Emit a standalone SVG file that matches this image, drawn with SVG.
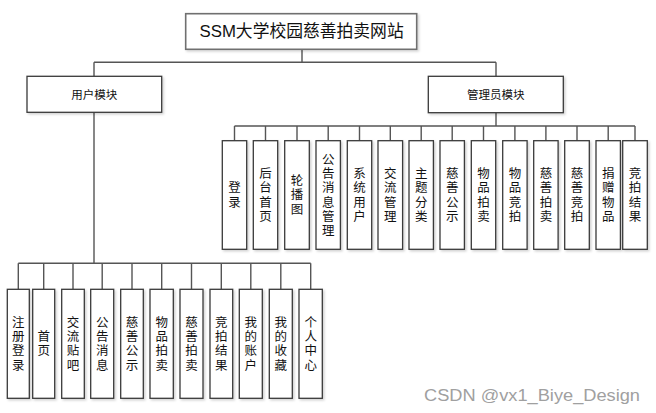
<svg xmlns="http://www.w3.org/2000/svg" width="656" height="413" viewBox="0 0 656 413">
<defs>
<filter id="sh" x="-20%" y="-20%" width="140%" height="140%">
<feDropShadow dx="1.5" dy="1.5" stdDeviation="1" flood-color="#000" flood-opacity="0.18"/>
</filter>
</defs>
<style>
.box{fill:#fff;stroke:#3a3a3a;stroke-width:1.3;filter:url(#sh)}
.tbox{fill:#fff;stroke:#707070;stroke-width:1.6;filter:url(#sh)}
.ln{fill:none;stroke:#555;stroke-width:1.4}
text{font-family:"Liberation Sans","Noto Sans CJK SC",sans-serif;fill:#111}
.t{font-size:16.8px;text-anchor:middle}
.m{font-size:11.5px;text-anchor:middle}
.v{font-size:12.5px;text-anchor:middle}
.wm{font-size:16px;fill:#a0a0a0;font-family:"Liberation Sans Narrow","Liberation Sans",sans-serif}
</style>
<g id="connectors">
<path class="ln" d="M302 49.3V62.3M94 62.3H496M94 62.3V76.3M496 62.3V76.3"/>
<path class="ln" d="M94 112.3V263.3M18.3 263.3H310.7M18.3 263.3V289.3M43.7 263.3V289.3M73 263.3V289.3M102.2 263.3V289.3M132 263.3V289.3M161.7 263.3V289.3M191.5 263.3V289.3M221.3 263.3V289.3M250.8 263.3V289.3M280.8 263.3V289.3M310.7 263.3V289.3"/>
<path class="ln" d="M496 112.7V126M234.5 126H635M234.5 126V140.7M265.5 126V140.7M297 126V140.7M328.2 126V140.7M359.5 126V140.7M390.3 126V140.7M421.2 126V140.7M452.2 126V140.7M483.5 126V140.7M514.9 126V140.7M545.9 126V140.7M577 126V140.7M608.2 126V140.7M635 126V140.7"/>
</g>
<g id="root"><rect class="tbox" x="185.7" y="13.7" width="231" height="35.6"/><text class="t" x="301.6" y="37">SSM大学校园慈善拍卖网站</text></g>
<g id="user"><rect class="box" x="27" y="76.3" width="134.7" height="36"/><text class="m" x="94.3" y="99">用户模块</text></g>
<g id="admin"><rect class="box" x="428.3" y="76.3" width="135" height="36.4"/><text class="m" x="495.8" y="99">管理员模块</text></g>

<g id="a1"><rect class="box" x="222.3" y="140.7" width="24.4" height="108.6"/><text class="v"><tspan x="234.5" y="192.3">登</tspan><tspan x="234.5" y="206.5">录</tspan></text></g>
<g id="a2"><rect class="box" x="253.3" y="140.7" width="24.4" height="108.6"/><text class="v"><tspan x="265.5" y="178.1">后</tspan><tspan x="265.5" y="192.3">台</tspan><tspan x="265.5" y="206.5">首</tspan><tspan x="265.5" y="220.7">页</tspan></text></g>
<g id="a3"><rect class="box" x="284.7" y="140.7" width="24.6" height="108.6"/><text class="v"><tspan x="297" y="185.2">轮</tspan><tspan x="297" y="199.4">播</tspan><tspan x="297" y="213.6">图</tspan></text></g>
<g id="a4"><rect class="box" x="316" y="140.7" width="24.4" height="108.6"/><text class="v"><tspan x="328.2" y="163.9">公</tspan><tspan x="328.2" y="178.1">告</tspan><tspan x="328.2" y="192.3">消</tspan><tspan x="328.2" y="206.5">息</tspan><tspan x="328.2" y="220.7">管</tspan><tspan x="328.2" y="234.9">理</tspan></text></g>
<g id="a5"><rect class="box" x="347.3" y="140.7" width="24.4" height="108.6"/><text class="v"><tspan x="359.5" y="178.1">系</tspan><tspan x="359.5" y="192.3">统</tspan><tspan x="359.5" y="206.5">用</tspan><tspan x="359.5" y="220.7">户</tspan></text></g>
<g id="a6"><rect class="box" x="378" y="140.7" width="24.6" height="108.6"/><text class="v"><tspan x="390.3" y="178.1">交</tspan><tspan x="390.3" y="192.3">流</tspan><tspan x="390.3" y="206.5">管</tspan><tspan x="390.3" y="220.7">理</tspan></text></g>
<g id="a7"><rect class="box" x="409" y="140.7" width="24.4" height="108.6"/><text class="v"><tspan x="421.2" y="178.1">主</tspan><tspan x="421.2" y="192.3">题</tspan><tspan x="421.2" y="206.5">分</tspan><tspan x="421.2" y="220.7">类</tspan></text></g>
<g id="a8"><rect class="box" x="440" y="140.7" width="24.4" height="108.6"/><text class="v"><tspan x="452.2" y="178.1">慈</tspan><tspan x="452.2" y="192.3">善</tspan><tspan x="452.2" y="206.5">公</tspan><tspan x="452.2" y="220.7">示</tspan></text></g>
<g id="a9"><rect class="box" x="471.3" y="140.7" width="24.4" height="108.6"/><text class="v"><tspan x="483.5" y="178.1">物</tspan><tspan x="483.5" y="192.3">品</tspan><tspan x="483.5" y="206.5">拍</tspan><tspan x="483.5" y="220.7">卖</tspan></text></g>
<g id="a10"><rect class="box" x="502.7" y="140.7" width="24.4" height="108.6"/><text class="v"><tspan x="514.9" y="178.1">物</tspan><tspan x="514.9" y="192.3">品</tspan><tspan x="514.9" y="206.5">竞</tspan><tspan x="514.9" y="220.7">拍</tspan></text></g>
<g id="a11"><rect class="box" x="533.7" y="140.7" width="24.4" height="108.6"/><text class="v"><tspan x="545.9" y="178.1">慈</tspan><tspan x="545.9" y="192.3">善</tspan><tspan x="545.9" y="206.5">拍</tspan><tspan x="545.9" y="220.7">卖</tspan></text></g>
<g id="a12"><rect class="box" x="564.7" y="140.7" width="24.6" height="108.6"/><text class="v"><tspan x="577" y="178.1">慈</tspan><tspan x="577" y="192.3">善</tspan><tspan x="577" y="206.5">竞</tspan><tspan x="577" y="220.7">拍</tspan></text></g>
<g id="a13"><rect class="box" x="596" y="140.7" width="24.4" height="108.6"/><text class="v"><tspan x="608.2" y="178.1">捐</tspan><tspan x="608.2" y="192.3">赠</tspan><tspan x="608.2" y="206.5">物</tspan><tspan x="608.2" y="220.7">品</tspan></text></g>
<g id="a14"><rect class="box" x="622.7" y="140.7" width="24.6" height="108.6"/><text class="v"><tspan x="635" y="178.1">竞</tspan><tspan x="635" y="192.3">拍</tspan><tspan x="635" y="206.5">结</tspan><tspan x="635" y="220.7">果</tspan></text></g>

<g id="u1"><rect class="box" x="7.3" y="289.3" width="22" height="109"/><text class="v"><tspan x="18.3" y="326.9">注</tspan><tspan x="18.3" y="341.1">册</tspan><tspan x="18.3" y="355.3">登</tspan><tspan x="18.3" y="369.5">录</tspan></text></g>
<g id="u2"><rect class="box" x="32.7" y="289.3" width="22" height="109"/><text class="v"><tspan x="43.7" y="341.1">首</tspan><tspan x="43.7" y="355.3">页</tspan></text></g>
<g id="u3"><rect class="box" x="61.7" y="289.3" width="22.6" height="109"/><text class="v"><tspan x="73" y="326.9">交</tspan><tspan x="73" y="341.1">流</tspan><tspan x="73" y="355.3">贴</tspan><tspan x="73" y="369.5">吧</tspan></text></g>
<g id="u4"><rect class="box" x="90.7" y="289.3" width="23" height="109"/><text class="v"><tspan x="102.2" y="326.9">公</tspan><tspan x="102.2" y="341.1">告</tspan><tspan x="102.2" y="355.3">消</tspan><tspan x="102.2" y="369.5">息</tspan></text></g>
<g id="u5"><rect class="box" x="120.7" y="289.3" width="22.6" height="109"/><text class="v"><tspan x="132" y="326.9">慈</tspan><tspan x="132" y="341.1">善</tspan><tspan x="132" y="355.3">公</tspan><tspan x="132" y="369.5">示</tspan></text></g>
<g id="u6"><rect class="box" x="150" y="289.3" width="23.3" height="109"/><text class="v"><tspan x="161.7" y="326.9">物</tspan><tspan x="161.7" y="341.1">品</tspan><tspan x="161.7" y="355.3">拍</tspan><tspan x="161.7" y="369.5">卖</tspan></text></g>
<g id="u7"><rect class="box" x="180" y="289.3" width="23" height="109"/><text class="v"><tspan x="191.5" y="326.9">慈</tspan><tspan x="191.5" y="341.1">善</tspan><tspan x="191.5" y="355.3">拍</tspan><tspan x="191.5" y="369.5">卖</tspan></text></g>
<g id="u8"><rect class="box" x="210" y="289.3" width="22.7" height="109"/><text class="v"><tspan x="221.3" y="326.9">竞</tspan><tspan x="221.3" y="341.1">拍</tspan><tspan x="221.3" y="355.3">结</tspan><tspan x="221.3" y="369.5">果</tspan></text></g>
<g id="u9"><rect class="box" x="239.3" y="289.3" width="23" height="109"/><text class="v"><tspan x="250.8" y="326.9">我</tspan><tspan x="250.8" y="341.1">的</tspan><tspan x="250.8" y="355.3">账</tspan><tspan x="250.8" y="369.5">户</tspan></text></g>
<g id="u10"><rect class="box" x="269.3" y="289.3" width="23" height="109"/><text class="v"><tspan x="280.8" y="326.9">我</tspan><tspan x="280.8" y="341.1">的</tspan><tspan x="280.8" y="355.3">收</tspan><tspan x="280.8" y="369.5">藏</tspan></text></g>
<g id="u11"><rect class="box" x="299" y="289.3" width="23.3" height="109"/><text class="v"><tspan x="310.7" y="326.9">个</tspan><tspan x="310.7" y="341.1">人</tspan><tspan x="310.7" y="355.3">中</tspan><tspan x="310.7" y="369.5">心</tspan></text></g>

<text class="wm" x="424" y="400.5" textLength="216" lengthAdjust="spacingAndGlyphs">CSDN @vx1_Biye_Design</text>
</svg>
